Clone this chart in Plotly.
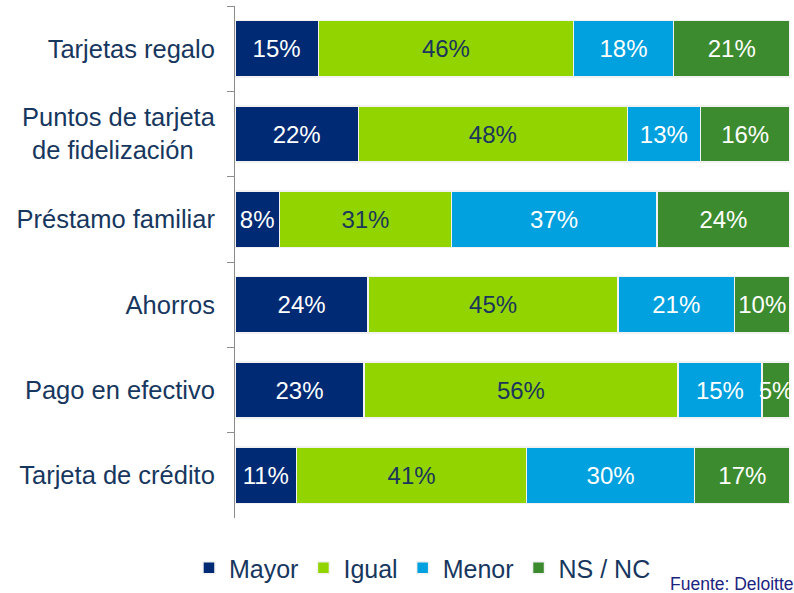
import plotly.graph_objects as go

categories = ["Tarjetas regalo", "Puntos de tarjeta<br>de fidelización\u00a0\u00a0\u00a0", "Préstamo familiar",
              "Ahorros", "Pago en efectivo", "Tarjeta de crédito"]
mayor = [15, 22, 8, 24, 23, 11]
igual = [46, 48, 31, 45, 56, 41]
menor = [18, 13, 37, 21, 15, 30]
nsnc = [21, 16, 24, 10, 5, 17]

series = [
    ("Mayor", mayor, "#002A74", "white"),
    ("Igual", igual, "#92D400", "#1B365D"),
    ("Menor", menor, "#00A1DE", "white"),
    ("NS / NC", nsnc, "#3D8B2F", "white"),
]

NAVY = "#17375E"
FONT = "Liberation Sans, Arial, sans-serif"

fig = go.Figure()
for name, vals, color, tcolor in series:
    fig.add_trace(go.Bar(
        y=categories, x=vals, name=name, orientation="h",
        marker=dict(color=color, line=dict(color="#F2F2F2", width=1.5)),
        text=[f"{v}%" for v in vals], textposition="inside",
        insidetextanchor="middle", textangle=0,
        textfont=dict(color=tcolor, size=24, family=FONT),
        hoverinfo="skip",
    ))

fig.update_layout(
    barmode="stack", barnorm="percent", bargap=0.34,
    width=794, height=593,
    margin=dict(l=235, r=4, t=6, b=75, autoexpand=False),
    paper_bgcolor="white", plot_bgcolor="white",
    font=dict(family=FONT, color=NAVY, size=24),
    uniformtext=dict(minsize=24, mode="show"),
    legend=dict(orientation="h", xref="container", yref="container",
                x=0.238, xanchor="left", y=0.042, yanchor="middle",
                font=dict(size=25, color=NAVY), traceorder="normal"),
    xaxis=dict(visible=False, range=[0, 100]),
    yaxis=dict(autorange="reversed", showline=True, linecolor="#8C8C8C", linewidth=1,
               ticks="outside", tickson="boundaries", ticklen=7, tickcolor="#8C8C8C",
               ticklabelstandoff=14, tickfont=dict(size=25.5, color=NAVY, family=FONT),
               showgrid=False),
    annotations=[dict(text="Fuente: Deloitte", xref="paper", yref="paper",
                      x=0.78, y=-0.128, xanchor="left", yanchor="middle",
                      showarrow=False, font=dict(size=17.5, color="#1C2480", family=FONT))],
)

fig.write_html("out.html", config={"displayModeBar": False},
               post_script="document.body.style.margin='0';document.body.style.overflow='hidden';")
